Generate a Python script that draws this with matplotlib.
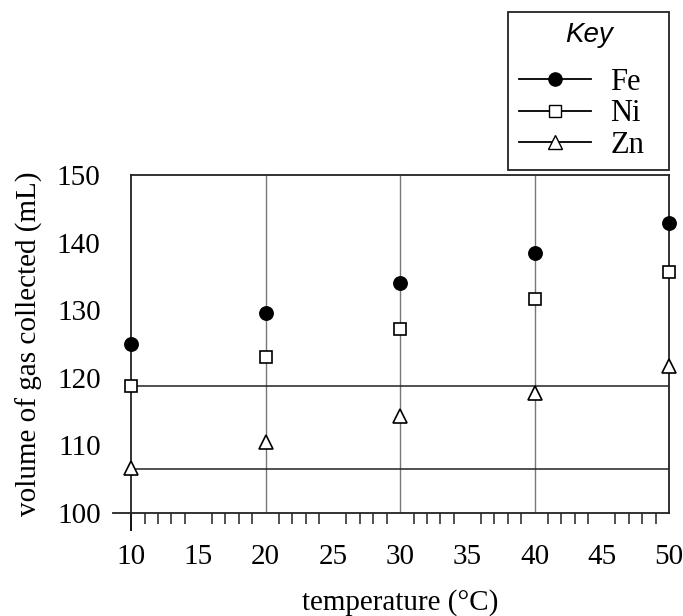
import numpy as np
from matplotlib import pyplot as plt
from matplotlib.lines import Line2D

plt.rcParams['font.family'] = ['Liberation Serif', 'DejaVu Serif']

# temperatures (°C) and gas volumes (mL)
temps = [10, 20, 30, 40, 50]
fe = [125.0, 129.6, 134.0, 138.4, 142.9]
ni = [118.8, 123.1, 127.2, 131.6, 135.7]
zn = [106.6, 110.5, 114.3, 117.8, 121.7]

grid_x = [20, 30, 40]
flat_levels = [118.8, 106.5]

fig = plt.figure(figsize=(6.83, 6.16), dpi=100)
ax = fig.add_axes([0.192, 0.167, 0.7875, 0.549])

ax.vlines(grid_x, 100, 150, color='#777777', linewidth=1.0, zorder=1)
ax.hlines(flat_levels, 10, 50, color='#222222', linewidth=1.1, zorder=1)

ms = dict(linestyle='none', markeredgecolor='black', markeredgewidth=1.2, zorder=3, clip_on=False)
ax.plot(temps, fe, marker='o', markersize=9.5, markerfacecolor='black', **ms)
ax.plot(temps, ni, marker='s', markersize=8.5, markerfacecolor='white', **ms)
ax.plot(temps, zn, marker='^', markersize=10, markerfacecolor='white', **ms)

ax.set_xlim(10, 50)
ax.set_ylim(100, 150)
for s in ax.spines.values():
    s.set_linewidth(1.3)
    s.set_color('#222222')
ax.spines['bottom'].set_bounds(8.65, 50)

ax.set_xticks(np.arange(10, 51, 5))
ax.set_xticks([t for t in range(11, 50) if t % 5 != 0], minor=True)
ax.set_yticks(np.arange(100, 151, 10))
ax.tick_params(axis='x', which='major', length=0, pad=22, labelsize=21)
ax.tick_params(axis='x', which='minor', length=8, width=1.1, direction='out', color='#222222')
ax.tick_params(axis='y', length=0, pad=22, labelsize=21)
first = ax.xaxis.get_major_ticks()[0]
first.tick1line.set_markersize(13)
first.tick1line.set_markeredgewidth(1.3)

ax.set_xlabel('temperature (°C)', fontsize=21, labelpad=14)
ax.set_ylabel('volume of gas collected (mL)', fontsize=21, labelpad=10)

handles = [
    Line2D([], [], color='black', linewidth=1.3, marker='o', markersize=9.5,
           markerfacecolor='black', markeredgecolor='black'),
    Line2D([], [], color='black', linewidth=1.3, marker='s', markersize=8.5,
           markerfacecolor='white', markeredgecolor='black'),
    Line2D([], [], color='black', linewidth=1.3, marker='^', markersize=10,
           markerfacecolor='white', markeredgecolor='black'),
]
leg = fig.legend(handles, ['Fe', 'Ni', 'Zn'], title='Key\n', loc='upper right',
                 bbox_to_anchor=(0.744, 0.7, 0.2355, 0.281), mode='expand',
                 fontsize=22, frameon=True,
                 fancybox=False, edgecolor='#222222', framealpha=1,
                 handlelength=2.35, handletextpad=0.65, labelspacing=0.08,
                 borderpad=0.35, borderaxespad=0,
                 title_fontproperties={'family': 'Liberation Sans',
                                       'style': 'italic', 'size': 20})
leg.get_title().set_linespacing(0.55)
leg.get_frame().set_linewidth(1.3)

fig.savefig('out.png', dpi=100)
